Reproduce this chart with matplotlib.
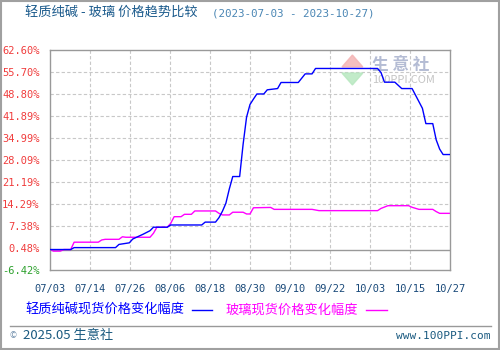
import matplotlib
matplotlib.use("Agg")
import matplotlib.pyplot as plt
import matplotlib.dates as mdates
import numpy as np
import pandas as pd
from matplotlib.patches import Polygon

plt.rcParams["font.family"] = ["Noto Sans CJK SC", "DejaVu Sans"]

# 轻质纯碱 (soda ash) price change, %
soda_dates = [
    "2023-07-03", "2023-07-09", "2023-07-10", "2023-07-22", "2023-07-23", "2023-07-26",
    "2023-07-27", "2023-07-30", "2023-08-01", "2023-08-02", "2023-08-06", "2023-08-07",
    "2023-08-16", "2023-08-17", "2023-08-20", "2023-08-21", "2023-08-22", "2023-08-23",
    "2023-08-24", "2023-08-25", "2023-08-27", "2023-08-28", "2023-08-29", "2023-08-30",
    "2023-08-31", "2023-09-01", "2023-09-03", "2023-09-04", "2023-09-07", "2023-09-08",
    "2023-09-13", "2023-09-15", "2023-09-17", "2023-09-18", "2023-10-06", "2023-10-07",
    "2023-10-08", "2023-10-11", "2023-10-13", "2023-10-16", "2023-10-19", "2023-10-20",
    "2023-10-22", "2023-10-23", "2023-10-24", "2023-10-25", "2023-10-27",
]
soda_values = [
    0.0, 0.0, 0.6, 0.6, 1.6, 2.1,
    3.3, 4.8, 5.9, 7.0, 7.0, 7.7,
    7.7, 8.6, 8.6, 10.0, 12.0, 14.5,
    19.0, 22.9, 22.9, 33.0, 41.5, 45.5,
    47.2, 48.8, 48.8, 50.1, 50.5, 52.4,
    52.4, 55.1, 55.1, 56.8, 56.8, 55.5,
    52.5, 52.5, 50.5, 50.5, 44.3, 39.5,
    39.5, 34.4, 31.5, 29.8, 29.8,
]

# 玻璃 (glass) price change, %
glass_dates = [
    "2023-07-03", "2023-07-04", "2023-07-06", "2023-07-07", "2023-07-09", "2023-07-10",
    "2023-07-17", "2023-07-18", "2023-07-19", "2023-07-23", "2023-07-24", "2023-07-25",
    "2023-08-01", "2023-08-02", "2023-08-03", "2023-08-06", "2023-08-07", "2023-08-08",
    "2023-08-10", "2023-08-11", "2023-08-13", "2023-08-14", "2023-08-20", "2023-08-21",
    "2023-08-22", "2023-08-24", "2023-08-25", "2023-08-28", "2023-08-29", "2023-08-30",
    "2023-08-31", "2023-09-05", "2023-09-06", "2023-09-17", "2023-09-19", "2023-10-06",
    "2023-10-07", "2023-10-09", "2023-10-15", "2023-10-16", "2023-10-18", "2023-10-22",
    "2023-10-23", "2023-10-24", "2023-10-27",
]
glass_values = [
    0.0, -0.5, -0.5, 0.0, 0.0, 2.3,
    2.3, 3.0, 3.2, 3.2, 4.0, 3.85,
    3.85, 5.1, 7.0, 7.0, 8.2, 10.3,
    10.3, 11.05, 11.05, 12.1, 12.1, 11.35,
    10.85, 10.85, 11.7, 11.7, 11.15, 11.15,
    13.1, 13.2, 12.6, 12.6, 12.2, 12.2,
    12.9, 13.75, 13.75, 13.25, 12.6, 12.6,
    11.9, 11.35, 11.35,
]

y_ticks = [-6.42, 0.48, 7.38, 14.29, 21.19, 28.09, 34.99, 41.89, 48.80, 55.70, 62.60]
x_labels = ["07/03", "07/14", "07/26", "08/06", "08/18", "08/30",
            "09/10", "09/22", "10/03", "10/15", "10/27"]

soda_x = pd.to_datetime(soda_dates)
glass_x = pd.to_datetime(glass_dates)

fig = plt.figure(figsize=(5, 3.5), dpi=100)
ax = fig.add_axes([0.1, 0.2286, 0.8, 0.6286])

x0 = mdates.date2num(pd.Timestamp("2023-07-03"))
x1 = mdates.date2num(pd.Timestamp("2023-10-27"))
ax.set_xlim(x0, x1)
ax.set_ylim(y_ticks[0], y_ticks[-1])

xt = np.linspace(x0, x1, len(x_labels))
ax.set_xticks(xt)
ax.set_xticklabels(x_labels, fontsize=7.5, color="#1a4a7a", family="DejaVu Sans Mono")
ax.set_yticks(y_ticks)
ax.set_yticklabels([f"{v:.2f}%" for v in y_ticks], fontsize=7.5, family="DejaVu Sans Mono")
for lbl, v in zip(ax.get_yticklabels(), y_ticks):
    lbl.set_color("#2ca02c" if v < 0 else "#f03c3c")
ax.tick_params(axis="y", length=0, pad=7.5)
ax.tick_params(axis="x", length=0, pad=10)

for v in y_ticks[1:-1]:
    if abs(v - 0.48) > 0.01:
        ax.axhline(v, color="#c8c8c8", lw=0.8, ls=(0, (3, 2)), zorder=0)
for x in xt[1:-1]:
    ax.axvline(x, color="#c8c8c8", lw=0.8, ls=(0, (3, 2)), zorder=0)
ax.axhline(0, color="#999999", lw=1.0, zorder=0.5)

for s in ax.spines.values():
    s.set_color("#999999")
    s.set_linewidth(1.0)

# watermark
ax.add_patch(Polygon([[0.756, 0.977], [0.73, 0.923], [0.782, 0.923]], closed=True,
                     transform=ax.transAxes, color="#f4b4b4", alpha=0.85, zorder=0.2))
ax.add_patch(Polygon([[0.73, 0.895], [0.782, 0.895], [0.756, 0.841]], closed=True,
                     transform=ax.transAxes, color="#b8e8c0", alpha=0.85, zorder=0.2))
ax.text(0.805, 0.93, "生 意 社", transform=ax.transAxes, fontsize=12,
        color="#b4bcd4", va="center", ha="left", fontweight="bold", zorder=0.2)
ax.text(0.805, 0.862, "100PPI.COM", transform=ax.transAxes, fontsize=8,
        color="#c4c4c4", va="center", ha="left", zorder=0.2)

ax.plot(soda_x, soda_values, color="#0000ff", lw=1.0, zorder=3)
ax.plot(glass_x, glass_values, color="#ff00ff", lw=1.0, zorder=2)

# title
fig.text(0.05, 0.962, "轻质纯碱 - 玻璃 价格趋势比较", fontsize=9.5, color="#1a5a8c",
         va="center", ha="left")
fig.text(0.424, 0.962, "(2023-07-03 - 2023-10-27)", fontsize=7.8, color="#4a86b4",
         va="center", ha="left", family="DejaVu Sans Mono")

# legend row
fig.text(0.05, 0.113, "轻质纯碱现货价格变化幅度", fontsize=9.5, color="#0000ff",
         va="center", ha="left")
fig.add_artist(plt.Line2D([0.384, 0.424], [0.113, 0.113], color="#0000ff", lw=1.0))
fig.text(0.452, 0.113, "玻璃现货价格变化幅度", fontsize=9.5, color="#ff00ff",
         va="center", ha="left")
fig.add_artist(plt.Line2D([0.732, 0.774], [0.113, 0.113], color="#ff00ff", lw=1.0))

# footer
fig.add_artist(plt.Line2D([0.02, 0.982], [0.068, 0.068], color="#999999", lw=1.0))
fig.text(0.02, 0.04, "©", fontsize=6, color="#6a8aa8", va="center", ha="left")
fig.text(0.046, 0.04, "2025.05 生意社", fontsize=9.5, color="#1a5a80", va="center", ha="left")
fig.text(0.98, 0.04, "www.100PPI.com", fontsize=8, color="#1a5a80", va="center",
         ha="right", family="DejaVu Sans Mono")

# outer frame
fig.add_artist(plt.Rectangle((0.002, 0.003), 0.996, 0.994, transform=fig.transFigure,
                             fill=False, edgecolor="#a0a0a0", lw=1.5))

fig.savefig("out.png", dpi=100)
